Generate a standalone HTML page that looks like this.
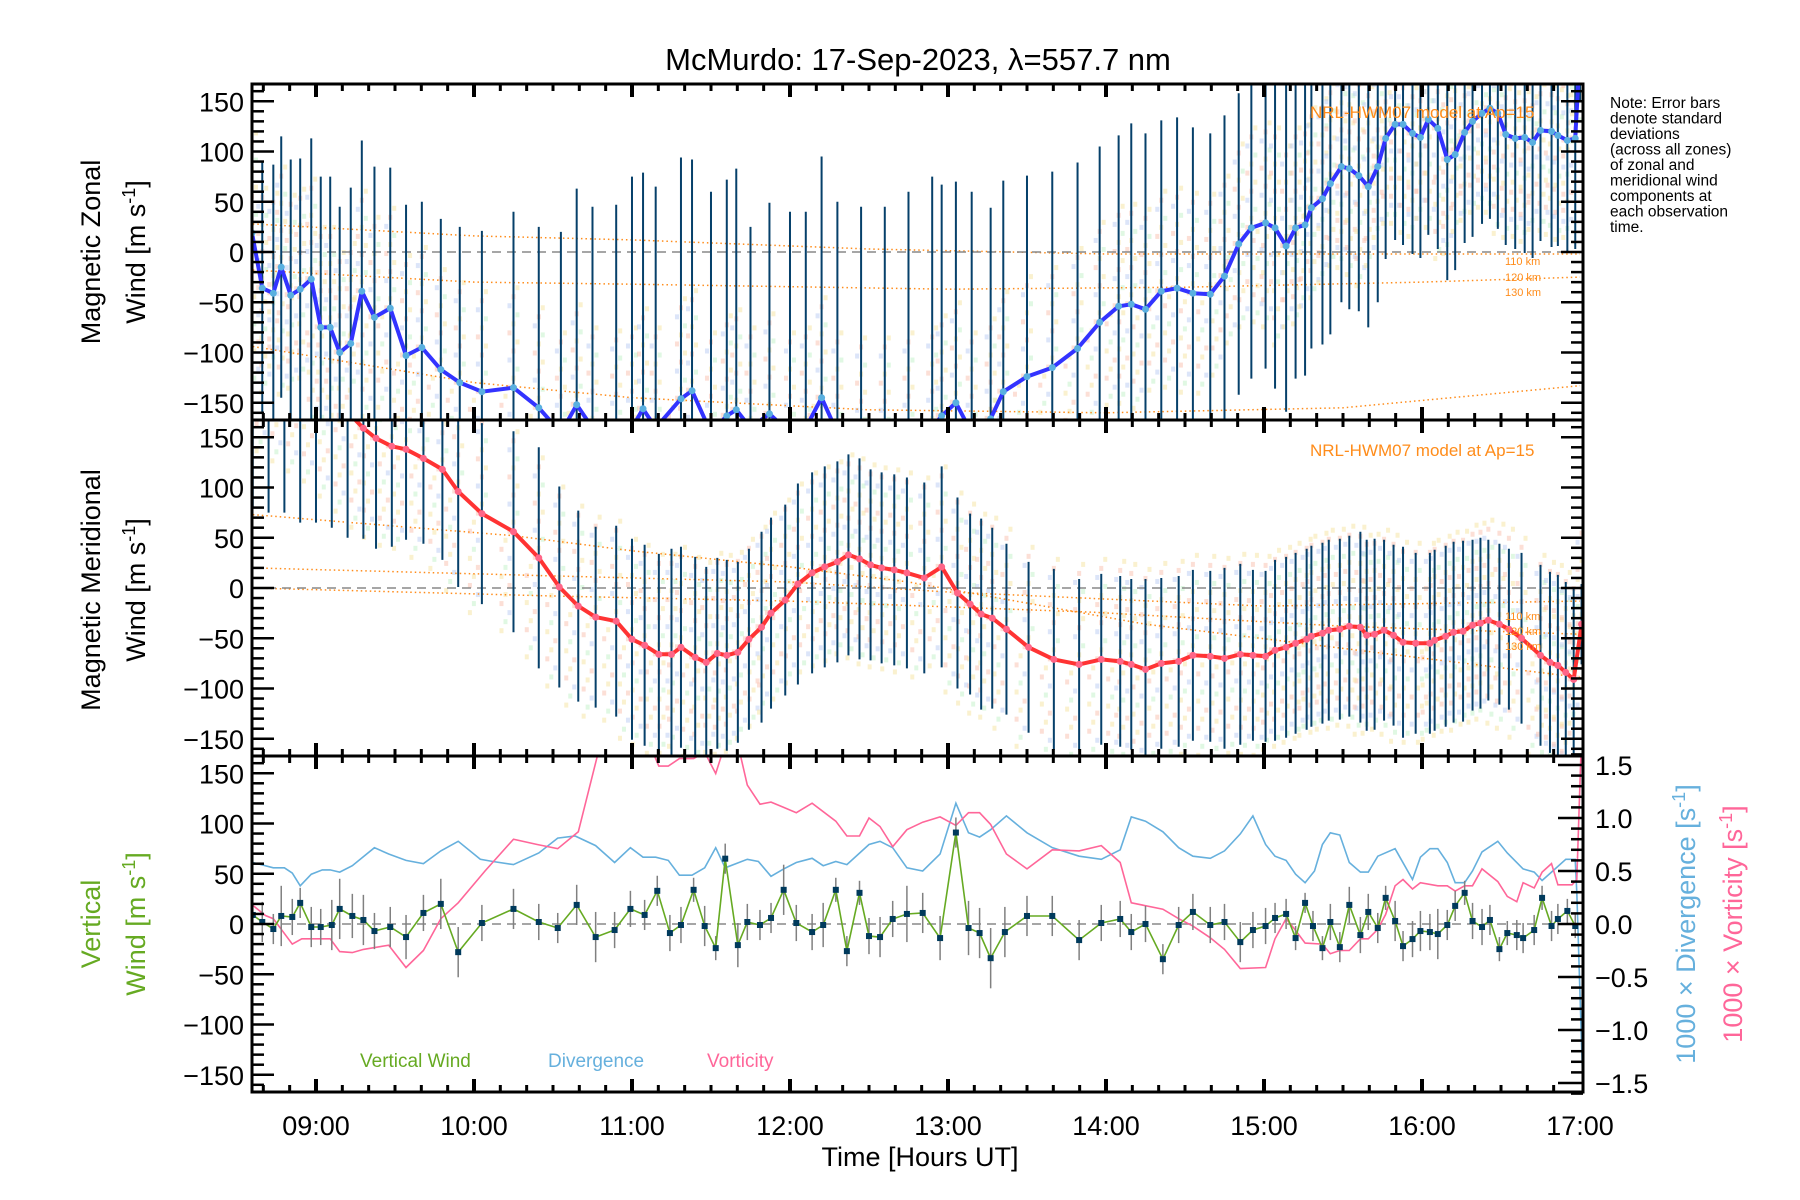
<!DOCTYPE html>
<html><head><meta charset="utf-8"><style>
html,body{margin:0;padding:0;background:#fff;}
svg{display:block;font-family:"Liberation Sans",sans-serif;}
</style></head><body>
<svg id="chart" width="1800" height="1200" viewBox="0 0 1800 1200" xmlns="http://www.w3.org/2000/svg">
<defs>
<clipPath id="c0"><rect x="252" y="84" width="1331" height="336"/></clipPath>
<clipPath id="c1"><rect x="252" y="420" width="1331" height="336"/></clipPath>
<clipPath id="c2"><rect x="252" y="756" width="1331" height="336"/></clipPath>
</defs>
<text x="918" y="70" font-size="31" text-anchor="middle">McMurdo: 17-Sep-2023, λ=557.7 nm</text>
<g id="layer"></g>
<text x="1610" y="108" font-size="15.5"><tspan x="1610" dy="0">Note: Error bars</tspan><tspan x="1610" dy="15.5">denote standard</tspan><tspan x="1610" dy="15.5">deviations</tspan><tspan x="1610" dy="15.5">(across all zones)</tspan><tspan x="1610" dy="15.5">of zonal and</tspan><tspan x="1610" dy="15.5">meridional wind</tspan><tspan x="1610" dy="15.5">components at</tspan><tspan x="1610" dy="15.5">each observation</tspan><tspan x="1610" dy="15.5">time.</tspan></text>
<text x="1310" y="118" font-size="17" fill="#ff8c1a">NRL-HWM07 model at Ap=15</text>
<text x="1310" y="456" font-size="17" fill="#ff8c1a">NRL-HWM07 model at Ap=15</text>
<g font-size="11" fill="#ff8c1a"><text x="1505" y="265">110 km</text><text x="1505" y="281">120 km</text><text x="1505" y="296">130 km</text></g>
<g font-size="11" fill="#ff8c1a"><text x="1505" y="620">110 km</text><text x="1505" y="635">120 km</text><text x="1505" y="650">130 km</text></g>
<g transform="translate(100,252) rotate(-90)"><text font-size="27" text-anchor="middle" y="0">Magnetic Zonal</text><text font-size="27" text-anchor="middle" y="45">Wind [m s<tspan dy="-10" font-size="18">-1</tspan><tspan dy="10">]</tspan></text></g>
<g transform="translate(100,590) rotate(-90)"><text font-size="27" text-anchor="middle" y="0">Magnetic Meridional</text><text font-size="27" text-anchor="middle" y="45">Wind [m s<tspan dy="-10" font-size="18">-1</tspan><tspan dy="10">]</tspan></text></g>
<g transform="translate(100,924) rotate(-90)" fill="#66aa22"><text font-size="27" text-anchor="middle" y="0">Vertical</text><text font-size="27" text-anchor="middle" y="45">Wind [m s<tspan dy="-10" font-size="18">-1</tspan><tspan dy="10">]</tspan></text></g>
<text transform="translate(1695,924) rotate(-90)" font-size="27" fill="#66b0dd" text-anchor="middle">1000 × Divergence [s<tspan dy="-10" font-size="18">-1</tspan><tspan dy="10">]</tspan></text>
<text transform="translate(1742,924) rotate(-90)" font-size="27" fill="#ff6699" text-anchor="middle">1000 × Vorticity [s<tspan dy="-10" font-size="18">-1</tspan><tspan dy="10">]</tspan></text>
<text x="920" y="1166" font-size="27" text-anchor="middle">Time [Hours UT]</text>
<text x="360" y="1067" font-size="19" fill="#66aa22">Vertical Wind</text>
<text x="548" y="1067" font-size="19" fill="#66b0dd">Divergence</text>
<text x="707" y="1067" font-size="19" fill="#ff6699">Vorticity</text>
</svg>
<script>
const zonalT=[8.595,8.66,8.73,8.78,8.84,8.90,8.97,9.03,9.09,9.15,9.22,9.29,9.37,9.47,9.57,9.67,9.79,9.91,10.05,10.25,10.41,10.55,10.65,10.75,10.9,11.0,11.07,11.15,11.31,11.38,11.5,11.60,11.66,11.75,11.87,12.0,12.1,12.20,12.3,12.45,12.6,12.75,12.9,12.96,13.05,13.15,13.27,13.35,13.50,13.66,13.82,13.96,14.08,14.16,14.25,14.35,14.45,14.55,14.66,14.75,14.84,14.92,15.01,15.07,15.14,15.20,15.26,15.30,15.37,15.42,15.49,15.54,15.60,15.66,15.72,15.77,15.83,15.88,15.94,15.99,16.04,16.10,16.16,16.21,16.27,16.32,16.38,16.43,16.48,16.53,16.59,16.65,16.70,16.75,16.82,16.86,16.92,16.97,17.0];
const zonalV=[19,-36,-41,-15,-43,-37,-27,-75,-75,-100,-91,-39,-65,-56,-103,-95,-117,-130,-139,-135,-155,-180,-152,-175,-178,-175,-156,-175,-146,-138,-180,-163,-157,-175,-161,-180,-175,-145,-180,-185,-185,-180,-175,-163,-150,-180,-166,-139,-124,-115,-96,-70,-54,-52,-57,-39,-36,-41,-42,-24,8,24,29,24,6,24,27,44,53,68,85,83,76,65,85,113,127,127,118,114,132,123,92,97,119,130,138,143,138,117,113,114,109,121,120,116,111,113,200];
const zonalErr=[120,125,128,130,135,130,140,150,150,145,155,150,150,140,150,145,150,155,160,175,180,200,215,220,225,250,235,240,240,230,240,235,240,200,210,220,215,240,230,230,230,240,250,230,220,240,210,210,200,195,185,175,170,180,175,170,170,165,160,160,150,150,145,160,165,150,150,140,145,150,135,140,135,140,135,120,115,120,120,120,115,120,120,115,110,115,110,110,115,110,110,115,115,110,115,110,110,110,50];
const merT=[8.60,8.70,8.80,8.90,9.00,9.10,9.20,9.30,9.38,9.48,9.57,9.68,9.80,9.90,10.05,10.25,10.41,10.54,10.66,10.77,10.90,11.00,11.08,11.17,11.25,11.31,11.40,11.47,11.54,11.60,11.67,11.74,11.82,11.88,11.97,12.05,12.14,12.22,12.30,12.37,12.44,12.51,12.58,12.66,12.74,12.85,12.96,13.06,13.14,13.21,13.28,13.37,13.51,13.67,13.83,13.97,14.09,14.16,14.25,14.35,14.46,14.55,14.66,14.75,14.85,14.93,15.01,15.07,15.14,15.20,15.27,15.30,15.37,15.41,15.48,15.54,15.61,15.65,15.70,15.76,15.82,15.88,15.96,16.05,16.08,16.15,16.20,16.26,16.32,16.37,16.42,16.49,16.55,16.63,16.75,16.81,16.86,16.91,16.96,17.01];
const merV=[240,235,225,215,205,190,175,159,149,141,138,129,118,96,74,56,30,1,-18,-29,-33,-51,-57,-66,-66,-59,-69,-74,-65,-67,-64,-51,-39,-25,-12,4,15,21,26,33,29,23,20,18,15,10,21,-5,-16,-26,-30,-41,-59,-71,-76,-71,-73,-76,-81,-75,-73,-67,-68,-70,-66,-67,-68,-62,-59,-55,-51,-48,-45,-42,-41,-38,-39,-47,-46,-42,-47,-54,-55,-55,-52,-48,-44,-43,-37,-35,-32,-36,-41,-50,-67,-74,-77,-84,-91,-36];
const merErr=[160,160,150,150,140,130,125,110,110,100,90,85,90,95,90,100,110,100,95,90,95,100,100,100,105,100,100,95,95,95,90,90,95,95,95,100,100,100,100,100,100,95,95,95,95,95,100,95,90,95,90,85,85,90,85,85,85,85,90,85,85,85,85,90,90,85,85,90,90,90,90,90,90,90,90,90,95,95,95,90,90,95,90,90,90,90,90,90,85,85,80,80,80,85,90,90,90,90,90,40];
const vwT=[8.60,8.66,8.73,8.78,8.85,8.90,8.97,9.03,9.10,9.15,9.23,9.30,9.37,9.47,9.57,9.68,9.79,9.90,10.05,10.25,10.41,10.53,10.65,10.77,10.89,10.99,11.08,11.16,11.24,11.31,11.39,11.46,11.53,11.59,11.67,11.73,11.81,11.88,11.96,12.04,12.14,12.21,12.29,12.36,12.44,12.50,12.57,12.65,12.74,12.84,12.95,13.05,13.13,13.20,13.27,13.36,13.50,13.66,13.83,13.97,14.09,14.16,14.25,14.36,14.46,14.55,14.66,14.75,14.85,14.93,15.01,15.07,15.14,15.20,15.26,15.31,15.37,15.42,15.48,15.54,15.61,15.66,15.72,15.77,15.83,15.88,15.94,15.99,16.05,16.10,16.16,16.21,16.27,16.32,16.38,16.43,16.49,16.54,16.60,16.64,16.71,16.76,16.82,16.86,16.92,16.97];
const vwV=[9,2,-5,8,7,21,-3,-3,-1,15,8,4,-7,-3,-13,11,20,-28,1,15,2,-4,19,-13,-6,15,9,33,-9,-1,34,-2,-24,65,-21,2,-1,6,34,1,-8,-1,34,-27,31,-12,-13,5,10,11,-14,91,-4,-9,-34,-8,8,8,-16,1,5,-8,0,-35,-1,12,-1,2,-18,-6,-2,6,10,-14,21,-2,-24,2,-23,19,-11,12,-4,26,3,-22,-15,-7,-8,-10,-1,18,31,3,-3,4,-25,-9,-11,-14,-6,26,-2,5,13,-2];
const vwErr=[12,20,15,30,18,15,20,18,25,30,22,25,18,20,22,18,25,25,18,20,18,15,20,25,18,18,15,15,18,18,12,20,12,15,22,18,15,15,25,18,18,22,12,15,12,18,20,18,28,20,22,15,27,25,30,25,20,20,20,18,18,18,18,15,18,18,18,18,20,18,18,15,15,12,10,15,12,18,15,18,18,18,15,12,20,15,18,20,18,25,15,15,12,18,18,15,12,12,15,15,15,12,15,15,12,12];
const divT=[8.60,8.73,8.80,8.85,8.90,8.97,9.04,9.09,9.15,9.23,9.37,9.46,9.57,9.68,9.79,9.90,10.04,10.12,10.25,10.41,10.53,10.64,10.77,10.89,10.99,11.07,11.15,11.23,11.30,11.38,11.46,11.53,11.59,11.73,11.80,11.88,11.96,12.04,12.14,12.21,12.29,12.36,12.50,12.57,12.65,12.74,12.84,12.95,13.05,13.13,13.20,13.27,13.37,13.50,13.66,13.83,13.97,14.09,14.16,14.25,14.36,14.46,14.55,14.66,14.75,14.85,14.93,15.01,15.07,15.14,15.20,15.26,15.32,15.37,15.42,15.48,15.54,15.61,15.66,15.72,15.83,15.94,15.99,16.05,16.10,16.16,16.21,16.27,16.32,16.38,16.48,16.54,16.64,16.71,16.76,16.82,16.91,16.97,16.98,17.02];
const divV=[0.58,0.53,0.53,0.48,0.36,0.47,0.51,0.51,0.49,0.55,0.72,0.66,0.60,0.57,0.69,0.78,0.61,0.59,0.56,0.67,0.81,0.83,0.74,0.58,0.72,0.63,0.63,0.60,0.46,0.46,0.53,0.72,0.53,0.61,0.59,0.45,0.52,0.58,0.62,0.55,0.59,0.56,0.75,0.78,0.72,0.53,0.50,0.66,1.14,0.86,0.82,0.89,1.02,0.86,0.72,0.64,0.61,0.70,1.01,0.97,0.87,0.72,0.64,0.62,0.69,0.85,1.02,0.75,0.64,0.60,0.47,0.39,0.50,0.75,0.86,0.84,0.58,0.49,0.49,0.64,0.71,0.42,0.63,0.71,0.71,0.58,0.39,0.39,0.50,0.68,0.78,0.67,0.52,0.49,0.41,0.49,0.61,0.61,0.30,-1.6];
const vorT=[8.58,8.68,8.73,8.85,8.91,9.09,9.15,9.23,9.30,9.46,9.57,9.68,9.79,9.90,10.07,10.25,10.40,10.53,10.66,10.80,11.11,11.17,11.23,11.30,11.39,11.46,11.53,11.59,11.67,11.73,11.81,11.88,11.96,12.04,12.14,12.29,12.36,12.44,12.50,12.57,12.65,12.74,12.84,12.95,13.05,13.13,13.20,13.27,13.37,13.50,13.66,13.83,13.97,14.09,14.16,14.36,14.46,14.55,14.66,14.75,14.85,15.01,15.07,15.14,15.20,15.26,15.37,15.42,15.48,15.54,15.61,15.66,15.72,15.77,15.83,15.88,15.94,15.99,16.10,16.16,16.21,16.27,16.32,16.38,16.48,16.54,16.60,16.64,16.71,16.76,16.82,16.86,16.95,16.98,17.01];
const vorV=[0.20,0.08,0.05,-0.19,-0.14,-0.14,-0.26,-0.27,-0.24,-0.20,-0.41,-0.25,0.05,0.20,0.50,0.80,0.75,0.71,0.87,1.7,1.7,1.49,1.49,1.56,1.56,1.62,1.42,1.7,1.7,1.31,1.13,1.15,1.10,1.05,1.14,0.97,0.83,0.83,1.00,0.92,0.73,0.89,0.96,1.01,0.93,1.05,1.05,0.94,0.66,0.52,0.70,0.69,0.74,0.58,0.20,0.14,0.05,-0.02,-0.13,-0.24,-0.42,-0.41,-0.14,0.05,-0.06,-0.18,-0.19,-0.28,-0.25,-0.25,-0.14,-0.14,-0.05,0.09,0.36,0.42,0.33,0.39,0.36,0.36,0.31,0.36,0.36,0.52,0.40,0.26,0.21,0.39,0.34,0.49,0.57,0.37,0.37,0.42,1.8];
const m110T=[8.6,10,11,12.5,14,17], m110V=[28,16,12,3,-2,-2];
const m120T=[8.6,10,11,13,14.5,16,17], m120V=[-18,-30,-32,-37,-35,-30,-25];
const m130T=[8.6,10,11,12.5,14,15.5,17], m130V=[-94,-130,-145,-157,-160,-155,-133];
const mAT=[8.6,10.25,11,12,12.75,14.25,17], mAV=[73,52,37,21,6,-36,-89];
const mBT=[8.6,10.5,12,13,15,17], mBV=[20,12,6,-4,-18,-13];
const mCT=[8.6,10.5,12,13.9,15.5,17], mCV=[0,-8,-13,-24,-38,-46];
const yTicks=[-150,-100,-50,0,50,100,150];
const rTicks=[-1.5,-1.0,-0.5,0.0,0.5,1.0,1.5];
const hourTicks=[9,10,11,12,13,14,15,16,17];

const NS='http://www.w3.org/2000/svg';
const L=252,R=1583,T0=8.595,PXH=158;
const tops=[84,420,756],PH=336;
const X=t=>L+(t-T0)*PXH;
const Y=(p,v)=>tops[p]+PH/2-v*1.005;
const Y2=r=>924-r*106;
const layer=document.getElementById('layer');
function mk(tag,attrs,parent){const e=document.createElementNS(NS,tag);for(const k in attrs)e.setAttribute(k,attrs[k]);(parent||layer).appendChild(e);return e;}
function grp(p,name){const g=mk('g',{'clip-path':'url(#c'+p+')'});


return g;}
function pathOf(ts,vs,fy){return ts.map((t,i)=>(i?'L':'M')+X(t).toFixed(1)+','+fy(vs[i]).toFixed(1)).join(' ');}

// pale scatter columns
const pale=['#f9c4b4','#f6e6a8','#c6f2cc','#c0d0f4','#f9c4b4','#f6e6a8'];
[[0,zonalT,zonalV],[1,merT,merV]].forEach(([p,ts,vs])=>{
  const g=grp(p,p?'meridional-scatter':'zonal-scatter');
  ts.forEach((t,i)=>{for(let k=-11;k<=11;k++){const v=vs[i]+k*9;
    mk('rect',{x:X(t)-2+((k%3)-1)*4,y:Y(p,v)-3,width:4,height:5,fill:pale[(k+12)%6],opacity:0.55},g);}});
});
// model lines
[[0,m110T,m110V],[0,m120T,m120V],[0,m130T,m130V],[1,mAT,mAV],[1,mBT,mBV],[1,mCT,mCV]].forEach(([p,ts,vs],i)=>{
  const g=grp(p,'model-line-'+i);
  mk('path',{d:pathOf(ts,vs,v=>Y(p,v)),fill:'none',stroke:'#ff8c1a','stroke-width':1.5,'stroke-dasharray':'1.5,3'},g);
});
// zero lines
[0,1,2].forEach(p=>{const z=mk('line',{x1:L,x2:R,y1:Y(p,0),y2:Y(p,0),stroke:'#888','stroke-width':1.5,'stroke-dasharray':'9,6'});

});
// error bars + series panels 1,2
[[0,zonalT,zonalV,zonalErr,'#3333ff','#5ab0e0','zonal'],[1,merT,merV,merErr,'#ff3333','#ff6688','meridional']].forEach(([p,ts,vs,es,lc,mc,nm])=>{
  const g=grp(p,nm+'-series');
  ts.forEach((t,i)=>{const b=mk('line',{x1:X(t),x2:X(t),y1:Y(p,vs[i]+es[i]),y2:Y(p,vs[i]-es[i]),stroke:'#06406a','stroke-width':2},g);
    
    });
  const ln=mk('path',{d:pathOf(ts,vs,v=>Y(p,v)),fill:'none',stroke:lc,'stroke-width':4,'stroke-linejoin':'round'},g);
  
  
  ts.forEach((t,i)=>{const c=mk('circle',{cx:X(t),cy:Y(p,vs[i]),r:3.5,fill:mc},g);
    
    });
});
// panel 3
{const g=grp(2,'vertical-panel-series');
 const dv=mk('path',{d:pathOf(divT,divV,Y2),fill:'none',stroke:'#66b0dd','stroke-width':1.6},g);
 
 
 const vr=mk('path',{d:pathOf(vorT,vorV,Y2),fill:'none',stroke:'#ff6699','stroke-width':1.6},g);
 
 
 vwT.forEach((t,i)=>{const b=mk('line',{x1:X(t),x2:X(t),y1:Y(2,vwV[i]+vwErr[i]),y2:Y(2,vwV[i]-vwErr[i]),stroke:'#808080','stroke-width':1.5},g);
   
   });
 const vw=mk('path',{d:pathOf(vwT,vwV,v=>Y(2,v)),fill:'none',stroke:'#66aa22','stroke-width':1.6},g);
 
 
 vwT.forEach((t,i)=>{const s=mk('rect',{x:X(t)-3,y:Y(2,vwV[i])-3,width:6,height:6,fill:'#003a5c'},g);
   
   });
}
// axes frames and ticks
[0,1,2].forEach(p=>{
  const top=tops[p],bot=top+PH;
  const f=mk('rect',{x:L,y:top,width:R-L,height:PH,fill:'none',stroke:'#000','stroke-width':3});
  
  
  for(let v=-160;v<=160;v+=10){const y=Y(p,v),maj=v%50===0;const len=maj?22:12;
    mk('line',{x1:L,x2:L+len,y1:y,y2:y,stroke:'#000','stroke-width':2.5});
    if(p<2)mk('line',{x1:R,x2:R-len,y1:y,y2:y,stroke:'#000','stroke-width':2.5});}
  yTicks.forEach(v=>{const tx=mk('text',{x:L-8,y:Y(p,v)+10,'font-size':27,'text-anchor':'end'});tx.textContent=(v<0?'−':'')+Math.abs(v);
    
    });
  for(let m=0;m<=50;m++){const t=8.5+m/6;if(t<T0||t>17.03)continue;const x=X(t);const maj=Math.abs(t-Math.round(t))<0.01;const len=maj?13:7;
    mk('line',{x1:x,x2:x,y1:top,y2:top+len,stroke:'#000','stroke-width':maj?4:3});
    mk('line',{x1:x,x2:x,y1:bot,y2:bot-len,stroke:'#000','stroke-width':maj?4:3});}
});
for(let r=-1.6;r<=1.61;r+=0.1){const y=Y2(r);const maj=Math.abs(r*2-Math.round(r*2))<0.01;mk('line',{x1:R,x2:R-(maj?25:12),y1:y,y2:y,stroke:'#000','stroke-width':2.5});}
rTicks.forEach(r=>{const tx=mk('text',{x:R+12,y:Y2(r)+10,'font-size':27});tx.textContent=(r<0?'−':'')+Math.abs(r).toFixed(1);
  
  });
hourTicks.forEach(h=>{const tx=mk('text',{x:X(h),y:1135,'font-size':27,'text-anchor':'middle'});tx.textContent=String(h).padStart(2,'0')+':00';
  
  });
</script>
</body></html>
